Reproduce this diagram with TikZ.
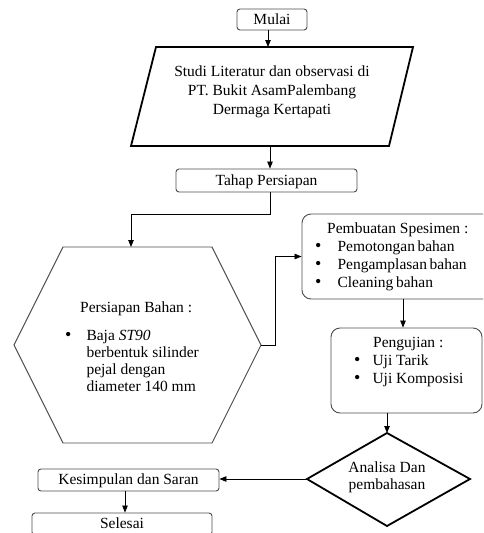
\documentclass[tikz,border=0pt]{standalone}
\usepackage{fontspec}
\setmainfont{Liberation Serif}
\usetikzlibrary{arrows.meta}
\newcommand\fsz{\fontsize{15.5}{18}\selectfont}
\newcommand\fszp{\fontsize{15.5}{19}\selectfont}
\newcommand\fszh{\fontsize{15.5}{17}\selectfont}
\newcommand\mybul{{\fontsize{18}{17}\selectfont\textbullet}}
\begin{document}
\begin{tikzpicture}[x=1pt,y=-1pt,
  rbox/.style={draw=black!70, line width=0.9pt, rounded corners=3pt, inner sep=0pt,
    text height=11pt, text depth=2pt, font=\fsz},
  rbig/.style={draw=black!70, line width=0.9pt, rounded corners=9pt, inner sep=0pt},
  heavy/.style={draw=black, line width=1.8pt, line join=miter},
  hexline/.style={draw=black!70, line width=0.9pt},
  conn/.style={draw=black, line width=0.8pt, -{Triangle[length=7pt,width=5.5pt]}},
  txt/.style={inner sep=0pt, anchor=base west, font=\fsz},
  ctxt/.style={inner sep=0pt, anchor=base}
]
\useasboundingbox (0,0) rectangle (483,533);
\clip (0,0) rectangle (483,533);

% Mulai
\node[rbox, minimum width=70pt, minimum height=21pt] (mulai) at (272,19.5) {Mulai};

% Parallelogram
\coordinate (pTL) at (156,47);
\coordinate (pTR) at (413,47);
\coordinate (pBR) at (389,146);
\coordinate (pBL) at (131,146);
\coordinate (pTop) at (268,47);
\coordinate (pBot) at (270,146);
\draw[heavy] (pTL) -- (pTR) -- (pBR) -- (pBL) -- cycle;
\node[ctxt, font=\fszp] (studi) at (272,76)
  {\begin{tabular}[t]{@{}c@{}}Studi Literatur dan observasi di\\PT. Bukit AsamPalembang\\Dermaga Kertapati\end{tabular}};
\draw[conn] (mulai.south -| pTop) -- (pTop);

% Tahap Persiapan
\node[rbox, minimum width=181pt, minimum height=23pt] (tahap) at (266.5,180.5) {Tahap Persiapan};
\draw[conn] (pBot) -- (pBot |- tahap.north);

% Hexagon
\coordinate (h1) at (63,247);
\coordinate (h2) at (212,247);
\coordinate (h3) at (261,345);
\coordinate (h4) at (212,443);
\coordinate (h5) at (63,443);
\coordinate (h6) at (14,345);
\coordinate (hTop) at (131,247);
\draw[hexline] (h1) -- (h2) -- (h3) -- (h4) -- (h5) -- (h6) -- cycle;
\node[txt] (bahanH) at (80,312) {Persiapan Bahan :};
\node[txt, font=\fszh] (bahanL) at (65,340)
  {\begin{tabular}[t]{@{}l@{\hspace{15pt}}l@{}}\mybul & Baja \textit{ST90}\\ & berbentuk silinder\\ & pejal dengan\\ & diameter 140 mm\end{tabular}};
\draw[conn] (tahap.south -| pBot) -- ++(0,22) -| (hTop);

% Pembuatan Spesimen
\node[rbig, minimum width=193pt, minimum height=85pt] (pbox) at (398.5,256.5) {};
\node[txt] (pbtH) at (327,233) {Pembuatan Spesimen :};
\node[txt] (pbtL) at (315,251)
  {\begin{tabular}[t]{@{}l@{\hspace{16pt}}l@{}}\mybul & Pemotongan\,bahan\\ \mybul & Pengamplasan\,bahan\\ \mybul & Cleaning\,bahan\end{tabular}};
\draw[conn] (h3) -- ++(14,0) |- (pbox.west);

% Pengujian
\node[rbig, minimum width=151pt, minimum height=85pt] (ubox) at (406.5,370.5) {};
\node[txt] (ujiH) at (373,347) {Pengujian :};
\node[txt] (ujiL) at (354,365)
  {\begin{tabular}[t]{@{}l@{\hspace{12pt}}l@{}}\mybul & Uji Tarik\\ \mybul & Uji Komposisi\end{tabular}};
\coordinate (a2) at (403,0);
\draw[conn] (pbox.south -| a2) -- (ubox.north -| a2);

% Diamond
\coordinate (dTop) at (387,433);
\coordinate (dR) at (470,479);
\coordinate (dB) at (387,526);
\coordinate (dL) at (307,479);
\draw[heavy] (dTop) -- (dR) -- (dB) -- (dL) -- cycle;
\node[ctxt, font=\fszh] (anal) at (387,472)
  {\begin{tabular}[t]{@{}c@{}}Analisa Dan\\pembahasan\end{tabular}};
\draw[conn] (ubox.south -| dTop) -- (dTop);

% Kesimpulan
\node[rbox, minimum width=181pt, minimum height=22pt] (kes) at (128.5,480) {Kesimpulan dan Saran};
\draw[conn] (dL) -- (kes.east |- dL);

% Selesai
\node[rbox, minimum width=180pt, minimum height=22pt] (sel) at (122,524) {Selesai};
\coordinate (a3) at (125,0);
\draw[conn] (kes.south -| a3) -- (sel.north -| a3);
\end{tikzpicture}
\end{document}
